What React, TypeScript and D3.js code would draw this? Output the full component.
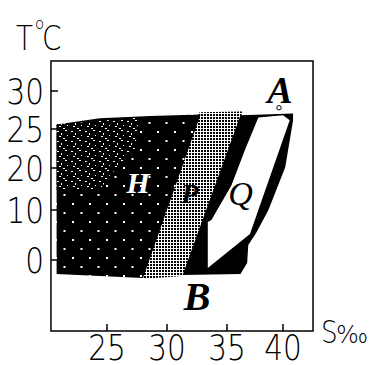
import React from 'react';
import * as d3 from 'd3';

// tick values on the two axes
const salinityTicks = [25, 30, 35, 40];
const tempTicks = [0, 10, 20, 25, 30];

// extent of the plot frame in data units (S ‰, T °C)
const frameS = [20.33, 42.68];
const frameT = [-14.2, 33.95];

// water-mass regions, as [S, T] vertices
const regionH: [number, number][] = [
  [20.8, 25.6], [24.4, 26.4], [28.6, 26.7], [32.8, 26.9],
  [28.0, -3.6], [24.4, -3.2], [20.8, -2.8]
];
const regionHSpeckle: [number, number][] = [
  [20.8, 25.6], [27.75, 26.5], [27.3, 22.3], [25.25, 18.3], [24.4, 14.8], [20.8, 14.8]
];
const regionP: [number, number][] = [
  [32.7, 27.2], [36.4, 27.3], [31.3, -3.2], [27.8, -3.8]
];
const regionBlack: [number, number][] = [
  [36.2, 26.8], [40.9, 27.05], [40.9, 26.15], [40.2, 20.1], [38.7, 10],
  [37.6, 5.4], [36.9, 3], [36.8, -0.6], [36.2, -2.8], [31.3, -3.0]
];
const regionQ: [number, number][] = [
  [37.8, 26.5], [40.0, 26.8], [40.6, 26.15], [37.05, 5.2], [33.4, -1.6],
  [33.4, 7.6], [33.7, 8.0], [35.4, 15.9], [36.6, 22.3]
];

// letters and their anchor points [S, T]
const letterNames = ['H', 'P', 'Q', 'A', 'B'];
const letterS = [27.6, 31.9, 36.2, 39.73, 32.5];
const letterT = [14.05, 11.7, 11.2, 28.4, -10];
const letterSizes = [30, 28, 34, 38, 40];
const markerA: [number, number] = [39.64, 27.8];

export default function App() {
  const width = 382;
  const height = 365;

  // the original figure's axes are not evenly spaced, so both scales are piecewise
  const x = d3.scaleLinear().domain(salinityTicks).range([107, 167, 227, 283]);
  const y = d3.scaleLinear().domain(tempTicks).range([260, 210, 168, 129, 91]);

  const area = d3.line<[number, number]>()
    .x(d => x(d[0]))
    .y(d => y(d[1]))
    .curve(d3.curveLinearClosed);

  const left = x(frameS[0]);
  const right = x(frameS[1]);
  const top = y(frameT[1]);
  const bottom = y(frameT[0]);

  const axisFont = "'DejaVu Sans', sans-serif";
  const letterFont = "'Liberation Serif', 'Times New Roman', serif";

  return (
    <svg width={width} height={height} style={{ position: 'absolute', left: 0, top: 0, background: '#fff' }}>
      <defs>
        <pattern id="hdots" patternUnits="userSpaceOnUse" width={17} height={18} x={1} y={2}>
          <rect width={17} height={18} fill="#000" />
          <rect x={3} y={3} width={2} height={2} fill="#fff" />
          <rect x={11.5} y={12} width={2} height={2} fill="#fff" />
        </pattern>
        <pattern id="speckle" patternUnits="userSpaceOnUse" width={14} height={10}>
          <rect width={14} height={10} fill="#000" />
          <rect x={1} y={1} width={2} height={1} fill="#fff" />
          <rect x={5} y={3} width={1} height={2} fill="#fff" />
          <rect x={9} y={0} width={2} height={1} fill="#fff" />
          <rect x={3} y={6} width={2} height={1} fill="#fff" />
          <rect x={11} y={5} width={1} height={1} fill="#fff" />
          <rect x={7} y={8} width={2} height={1} fill="#fff" />
        </pattern>
        <pattern id="stipple" patternUnits="userSpaceOnUse" width={3} height={3}>
          <rect width={3} height={3} fill="#fff" />
          <rect width={2} height={2} fill="#000" />
        </pattern>
      </defs>

      {/* regions */}
      <path d={area(regionP) ?? ''} fill="url(#stipple)" />
      <path d={area(regionH) ?? ''} fill="url(#hdots)" />
      <path d={area(regionHSpeckle) ?? ''} fill="url(#speckle)" />
      <path d={area(regionBlack) ?? ''} fill="#000" />
      <path d={area(regionQ) ?? ''} fill="#fff" />
      <circle cx={x(markerA[0])} cy={y(markerA[1])} r={2.2} fill="#fff" stroke="#000" strokeWidth={1} />

      {/* letters */}
      {letterNames.map((name, i) => (
        <text
          key={name}
          x={x(letterS[i])}
          y={y(letterT[i])}
          textAnchor="middle"
          fontFamily={letterFont}
          fontStyle="italic"
          fontWeight={name === 'Q' ? 'normal' : 'bold'}
          fontSize={letterSizes[i]}
          fill={name === 'H' ? '#fff' : '#000'}
        >
          {name}
        </text>
      ))}

      {/* frame */}
      <rect x={left} y={top} width={right - left} height={bottom - top} fill="none" stroke="#000" strokeWidth={1.5} />

      {/* ticks */}
      {tempTicks.map(t => (
        <g key={'t' + t}>
          <line x1={left} x2={left + 7} y1={y(t)} y2={y(t)} stroke="#000" strokeWidth={1.5} />
          <text transform={`translate(44,${y(t) + 13}) scale(0.82,1)`} textAnchor="end"
            fontFamily={axisFont} fontWeight={200} fontSize={36}>{t}</text>
        </g>
      ))}
      {salinityTicks.map(s => (
        <g key={'s' + s}>
          <line x1={x(s)} x2={x(s)} y1={bottom} y2={bottom - 7} stroke="#000" strokeWidth={1.5} />
          <text transform={`translate(${x(s)},360) scale(0.82,1)`} textAnchor="middle"
            fontFamily={axisFont} fontWeight={200} fontSize={36}>{s}</text>
        </g>
      ))}

      {/* axis titles */}
      <text transform="translate(16,50) scale(0.82,1)" fontFamily={axisFont} fontWeight={200} fontSize={34}>T</text>
      <text x={35} y={29} fontFamily={axisFont} fontWeight={200} fontSize={15}>o</text>
      <text transform="translate(42,50) scale(0.82,1)" fontFamily={axisFont} fontWeight={200} fontSize={34}>C</text>
      <text transform="translate(321,343) scale(0.82,1)" fontFamily={axisFont} fontWeight={200} fontSize={32}>S</text>
      <text x={336} y={343} fontFamily={axisFont} fontWeight={200} fontSize={24}>‰</text>
    </svg>
  );
}
